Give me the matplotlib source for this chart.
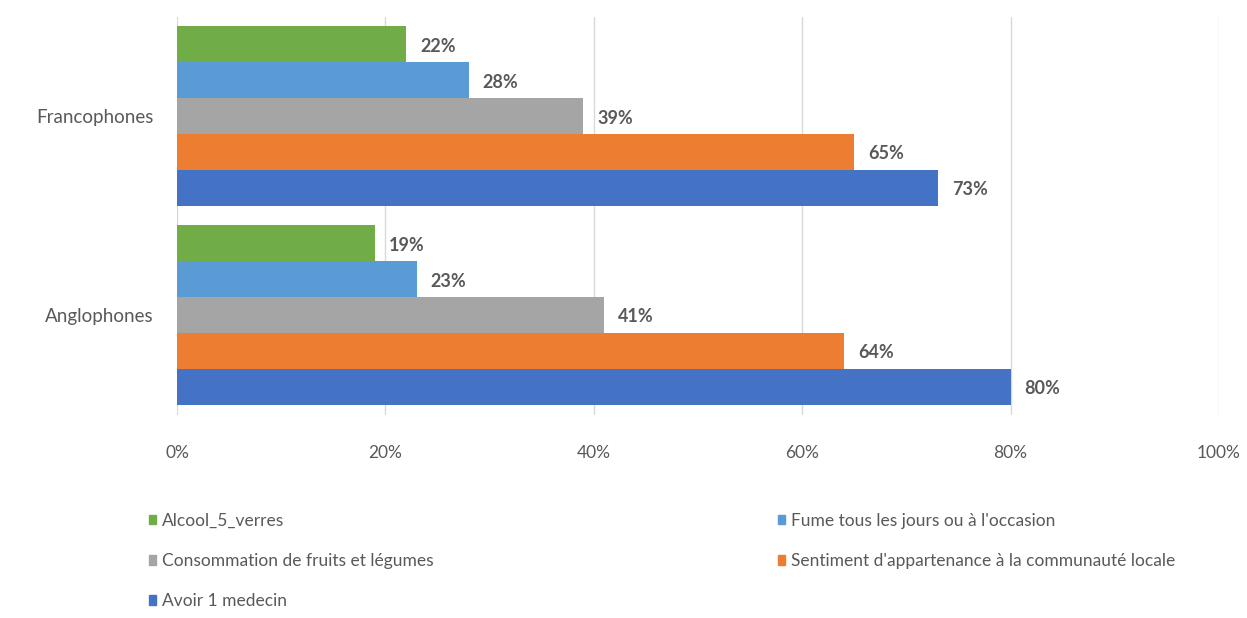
import matplotlib
matplotlib.use("Agg")
from matplotlib import pyplot as plt
from matplotlib.patches import Patch

plt.rcParams['font.family'] = ['Lato', 'DejaVu Sans']

# data
categories = ["Anglophones", "Francophones"]
series = ["Alcool_5_verres",
          "Fume tous les jours ou à l'occasion",
          "Consommation de fruits et légumes",
          "Sentiment d'appartenance à la communauté locale",
          "Avoir 1 medecin"]
values = {
    "Alcool_5_verres": [19, 22],
    "Fume tous les jours ou à l'occasion": [23, 28],
    "Consommation de fruits et légumes": [41, 39],
    "Sentiment d'appartenance à la communauté locale": [64, 65],
    "Avoir 1 medecin": [80, 73],
}
colors = ["#70AD47", "#5B9BD5", "#A5A5A5", "#ED7D31", "#4472C4"]

fig = plt.figure(figsize=(12.47, 6.18), dpi=100)
ax = fig.add_axes([177/1247, 1 - 414.5/618, (1219-177)/1247, (414.5-16.5)/618])

barH = 0.18
for i, name in enumerate(series):
    offset = (2 - i) * barH
    ys = [c + offset for c in range(len(categories))]
    bars = ax.barh(ys, values[name], height=barH, color=colors[i], zorder=3)
    for b, v in zip(bars, values[name]):
        ax.annotate(f"{v}%", (b.get_width(), b.get_y() + b.get_height()/2),
                    xytext=(14, -2), textcoords="offset pixels",
                    va="center", ha="left", fontsize=13, fontweight="bold", color="#595959")

ax.set_xlim(0, 100)
ax.set_ylim(-0.5, 1.5)
ax.set_xticks([0, 20, 40, 60, 80, 100])
ax.set_xticklabels([f"{t}%" for t in [0, 20, 40, 60, 80, 100]])
ax.set_yticks(range(len(categories)))
ax.set_yticklabels(categories)
ax.tick_params(axis="both", length=0, colors="#595959")
ax.tick_params(axis="x", pad=22, labelsize=12.5)
ax.tick_params(axis="y", pad=17, labelsize=13.5)
ax.grid(axis="x", color="#D9D9D9", linewidth=1, zorder=0)
for s in ax.spines.values():
    s.set_visible(False)

# legend in two columns, placed separately
h = [Patch(color=c) for c in colors]
common = dict(loc="upper left", frameon=False, fontsize=12.5, labelcolor="#595959",
              handlelength=0.45, handleheight=0.5, handletextpad=0.3,
              labelspacing=1.4, borderpad=0)
leg1 = fig.legend([h[0], h[2], h[4]], [series[0], series[2], series[4]],
                  bbox_to_anchor=(140/1247, 1 - 504/618), **common)
leg2 = fig.legend([h[1], h[3]], [series[1], series[3]],
                  bbox_to_anchor=(769/1247, 1 - 504/618), **common)

fig.savefig("out.png", dpi=100)
